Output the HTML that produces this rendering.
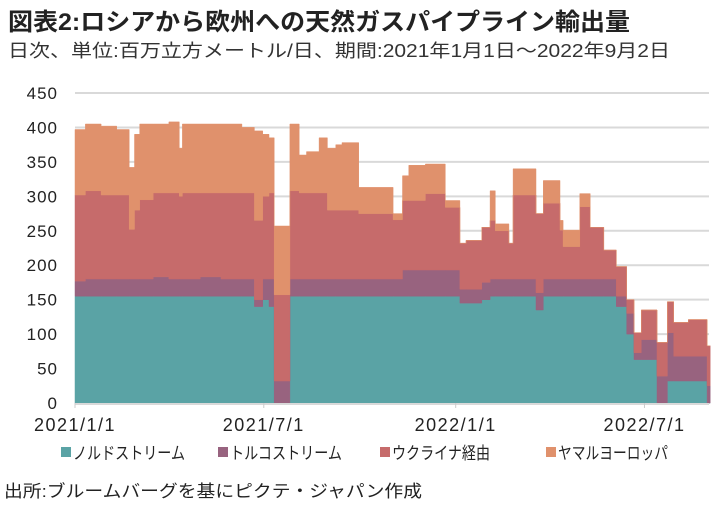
<!DOCTYPE html>
<html><head><meta charset="utf-8"><style>
html,body{margin:0;padding:0;background:#fff;}
svg{display:block;font-family:"Liberation Sans","Noto Sans CJK JP",sans-serif;}
</style></head><body>
<svg id="c" width="721" height="509" viewBox="0 0 721 509">
<text x="8" y="30" font-size="24" font-weight="bold" fill="#222" textLength="622" lengthAdjust="spacingAndGlyphs">図表2:ロシアから欧州への天然ガスパイプライン輸出量</text>
<text x="8" y="57" font-size="18" fill="#333" textLength="662" lengthAdjust="spacingAndGlyphs">日次、単位:百万立方メートル/日、期間:2021年1月1日～2022年9月2日</text>
<g id="grid"></g><g id="marks"></g><g id="axes"></g>
<g id="legend"></g>
<text x="4" y="497" font-size="17" fill="#222" textLength="418" lengthAdjust="spacingAndGlyphs">出所:ブルームバーグを基にピクテ・ジャパン作成</text>
</svg>
<script>
const segStart=[0,10,25,40,52,57,62,75,90,100,103,120,140,160,172,180,186,191,206,215,222,234,242,250,256,272,305,314,320,336,355,369,375,390,398,403,416,420,442,449,465,468,484,494,507,519,529,536,543,558,568,574,588,606];
const nord=[155,155,155,155,155,155,155,155,155,155,155,155,155,155,140,150,140,0,155,155,155,155,155,155,155,155,155,155,155,155,155,145,145,150,155,155,155,155,135,155,155,155,155,155,155,140,100,63,63,0,32,32,32,0];
const turk=[22,25,25,25,25,25,25,28,25,25,25,28,25,25,10,30,40,32,25,25,25,25,25,25,25,25,25,38,38,38,38,20,20,25,25,25,25,25,25,25,25,25,25,25,25,15,30,10,29,39,70,36,36,25];
const ukr=[125,128,122,122,72,100,115,122,125,120,125,122,125,125,115,120,125,125,128,125,125,125,100,100,100,95,86,101,101,111,91,67,71,80,85,70,52,122,115,110,71,47,105,75,42,43,20,29,43,49,45,49,53,58];
const yamal=[95,97,100,95,90,110,110,100,103,70,100,100,100,95,130,90,80,100,97,55,60,80,90,95,98,38,9,36,51,43,10,0,0,0,43,10,0,38,0,33,14,24,19,0,0,0,0,0,0,0,0,0,0,0];
const endDay=609;
const yTicks=[0,50,100,150,200,250,300,350,400,450];
const xTickDays=[0,181,365,546];
const xTickLabels=["2021/1/1","2021/7/1","2022/1/1","2022/7/1"];
const seriesNames=["ノルドストリーム","トルコストリーム","ウクライナ経由","ヤマルヨーロッパ"];
const colors=["#5aa3a5","#98637f","#c66b6b","#e0916c"];
const NS="http://www.w3.org/2000/svg";
const X0=75,PX=1.043,Y0=403,PY=310/450;
const xs=d=>X0+d*PX, ys=v=>Y0-v*PY;
const grid=document.getElementById('grid'),marks=document.getElementById('marks'),axes=document.getElementById('axes');
function mk(tag,attrs,parent){const e=document.createElementNS(NS,tag);for(const k in attrs)e.setAttribute(k,attrs[k]);parent.appendChild(e);return e;}
yTicks.forEach(v=>{
  if(v>0){const l=mk('line',{x1:75,x2:709,y1:ys(v),y2:ys(v),stroke:'#d9d9d9','stroke-width':2},grid);
  
  }
  const t=mk('text',{x:58,y:ys(v)+6,'text-anchor':'end','font-size':17,fill:'#222','letter-spacing':'1'},axes);
  t.textContent=v;
  
  
});
const series=[nord,turk,ukr,yamal];
series.forEach((arr,si)=>{
  let top=[],bot=[];
  for(let i=0;i<segStart.length;i++){
    let b=0;for(let s=0;s<si;s++)b+=series[s][i];
    const t=b+arr[i];
    const d0=segStart[i],d1=i+1<segStart.length?segStart[i+1]:endDay;
    top.push([xs(d0),ys(t)],[xs(d1),ys(t)]);
    bot.push([xs(d0),ys(b)],[xs(d1),ys(b)]);
  }
  const pts=top.concat(bot.reverse()).map(p=>p[0].toFixed(1)+','+p[1].toFixed(1)).join(' ');
  const p=mk('polygon',{points:pts,fill:colors[si],stroke:colors[si],'stroke-width':0.5},marks);
  
  
});
const ax=mk('line',{x1:75,x2:709,y1:Y0+1,y2:Y0+1,stroke:'#d9d9d9','stroke-width':2},axes);


xTickDays.forEach((d,i)=>{
  const tk=mk('line',{x1:xs(d),x2:xs(d),y1:Y0,y2:Y0+5,stroke:'#ccc','stroke-width':1},axes);
  
  
  const t=mk('text',{x:xs(d),y:431,'text-anchor':'middle','font-size':18,fill:'#222','letter-spacing':'1.5'},axes);
  t.textContent=xTickLabels[i];
  
  
});
const lg=document.getElementById('legend');
const lx=[61,218,380,546],lw=[112,112,98,110];
seriesNames.forEach((n,i)=>{
  const r=mk('rect',{x:lx[i],y:447,width:10,height:10,fill:colors[i]},lg);
  
  
  const t=mk('text',{x:lx[i]+12,y:459,'font-size':17,fill:'#222',textLength:lw[i],lengthAdjust:'spacingAndGlyphs'},lg);
  t.textContent=n;
  
  
});
</script>
</body></html>
